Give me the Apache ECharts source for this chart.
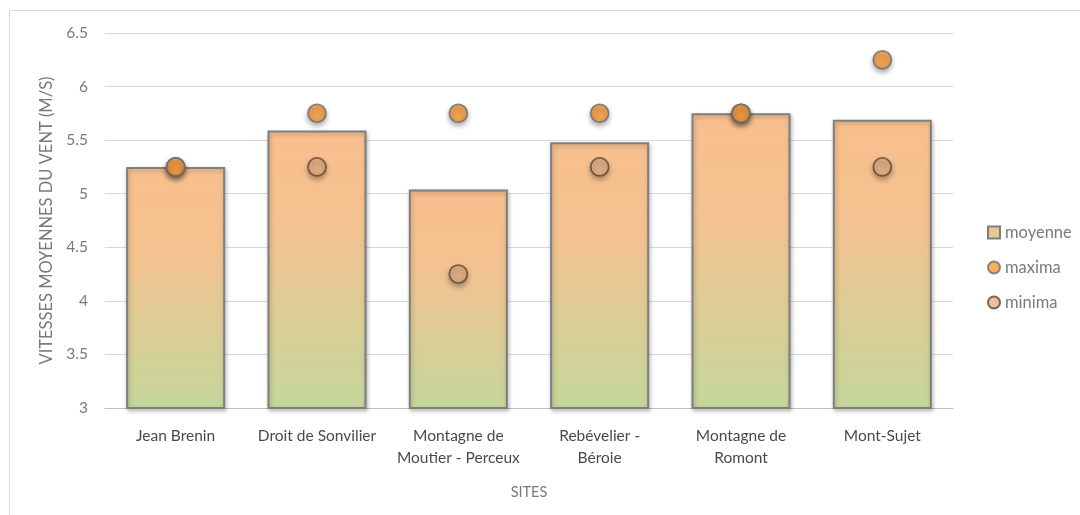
<!DOCTYPE html>
<html><head><meta charset="utf-8">
<script src="https://cdn.jsdelivr.net/npm/echarts@6/dist/echarts.min.js"></script>
<style>html,body{margin:0;padding:0;background:#fff}#c{width:1080px;height:515px}</style>
</head><body><div id="c"></div>
<script>
const categories = ["Jean Brenin", "Droit de Sonvilier", "Montagne de\nMoutier - Perceux", "Rebévelier -\nBéroie", "Montagne de\nRomont", "Mont-Sujet"];
const moyenne = [5.25, 5.59, 5.04, 5.48, 5.75, 5.69];
const maxima = [5.25, 5.75, 5.75, 5.75, 5.75, 6.25];
const minima = [5.25, 5.25, 4.25, 5.25, 5.75, 5.25];
const yTicks = {min: 3, max: 6.5, interval: 0.5};

const font = 'Lato, "Open Sans", sans-serif';
const chart = echarts.init(document.getElementById('c'));
chart.setOption({
  animation: false,
  backgroundColor: '#fff',
  graphic: [{type: 'rect', shape: {x: 9.5, y: 10.5, width: 1100, height: 600}, style: {fill: 'none', stroke: '#d9d9d9', lineWidth: 1}}],
  grid: {left: 105, right: 127, top: 33, bottom: 107},
  legend: {
    orient: 'vertical', left: 982, top: 219, itemGap: 18, itemWidth: 12, itemHeight: 12,
    textStyle: {color: '#7a7a7a', fontSize: 16.5, fontFamily: font},
    data: [
      {name: 'moyenne', icon: 'rect'},
      {name: 'maxima', icon: 'circle'},
      {name: 'minima', icon: 'circle'}
    ]
  },
  xAxis: {
    type: 'category', data: categories,
    name: 'SITES', nameLocation: 'middle', nameGap: 77,
    nameTextStyle: {color: '#7a7a7a', fontSize: 14.5, fontFamily: font},
    axisLine: {lineStyle: {color: '#bfbfbf', width: 1}},
    axisTick: {show: false},
    axisLabel: {interval: 0, color: '#4a4a4a', fontSize: 15.5, fontFamily: font, lineHeight: 22, margin: 17}
  },
  yAxis: {
    type: 'value', min: yTicks.min, max: yTicks.max, interval: yTicks.interval,
    name: 'VITESSES MOYENNES DU VENT (M/S)', nameLocation: 'middle', nameGap: 49,
    nameTextStyle: {color: '#7a7a7a', fontSize: 16.5, fontFamily: font},
    axisLine: {show: false}, axisTick: {show: false},
    axisLabel: {color: '#7a7a7a', fontSize: 15.5, fontFamily: font, margin: 17},
    splitLine: {lineStyle: {color: '#d9d9d9', width: 1}}
  },
  series: [
    {
      name: 'moyenne', type: 'bar', data: moyenne, barWidth: 99,
      itemStyle: {
        color: new echarts.graphic.LinearGradient(0, 0, 0, 1, [
          {offset: 0, color: '#f8bf8d'},
          {offset: 0.35, color: '#f3c290'},
          {offset: 1, color: '#c4d79b'}
        ], false),
        borderColor: '#7f7f7f', borderWidth: 2,
        shadowBlur: 4, shadowColor: 'rgba(0,0,0,0.25)', shadowOffsetX: 1, shadowOffsetY: 2
      }
    },
    {
      name: 'minima', type: 'scatter', data: minima, symbolSize: 18, z: 3,
      itemStyle: {color: '#e5b087', borderColor: '#5c4636', borderWidth: 1.8,
        shadowBlur: 5, shadowColor: 'rgba(0,0,0,0.35)', shadowOffsetY: 3}
    },
    {
      name: 'maxima', type: 'scatter', data: maxima, symbolSize: 18, z: 4,
      itemStyle: {color: '#f79a36', borderColor: '#6e6e6e', borderWidth: 1.8,
        shadowBlur: 5, shadowColor: 'rgba(0,0,0,0.35)', shadowOffsetY: 3}
    }
  ]
});
</script></body></html>
